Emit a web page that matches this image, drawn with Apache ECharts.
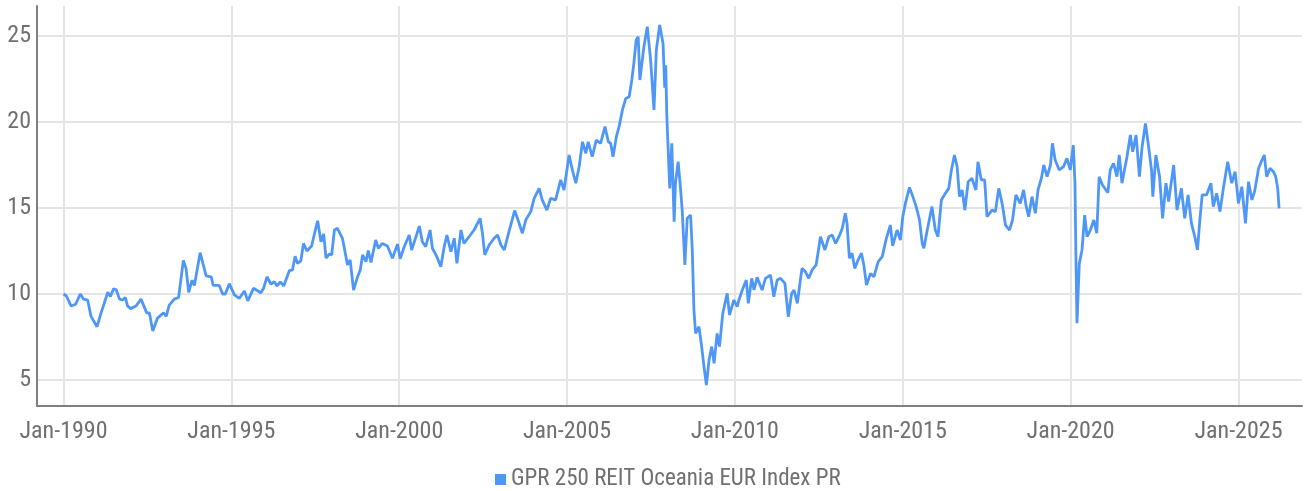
<!DOCTYPE html>
<html>
<head>
<meta charset="utf-8">
<script src="https://cdn.jsdelivr.net/npm/echarts@6/dist/echarts.min.js"></script>
<style>
    html, body { margin: 0; padding: 0; background: #fff; }
    #main { width: 1304px; height: 491px; }
</style>
</head>
<body>
<div id="main"></div>
<script>
// 图例名称
var seriesName = 'GPR 250 REIT Oceania EUR Index PR';

// 日期（小数年份）
var dates = [
    1990.00, 1990.08, 1990.23, 1990.36, 1990.50, 1990.60, 1990.72, 1990.82, 1991.00, 1991.12,
    1991.32, 1991.40, 1991.49, 1991.57, 1991.67, 1991.76, 1991.84, 1991.91, 1992.00, 1992.16,
    1992.31, 1992.48, 1992.56, 1992.66, 1992.80, 1992.98, 1993.06, 1993.15, 1993.30, 1993.43,
    1993.57, 1993.65, 1993.73, 1993.83, 1993.90, 1994.07, 1994.25, 1994.40, 1994.46, 1994.64,
    1994.74, 1994.82, 1994.94, 1995.09, 1995.24, 1995.39, 1995.49, 1995.66, 1995.88, 1995.96,
    1996.06, 1996.18, 1996.28, 1996.36, 1996.46, 1996.56, 1996.73, 1996.82, 1996.90, 1996.97,
    1997.07, 1997.15, 1997.25, 1997.39, 1997.57, 1997.67, 1997.75, 1997.82, 1997.92, 1997.99,
    1998.07, 1998.16, 1998.31, 1998.46, 1998.54, 1998.64, 1998.76, 1998.84, 1998.91, 1999.01,
    1999.08, 1999.16, 1999.30, 1999.38, 1999.50, 1999.65, 1999.80, 1999.95,
    2000.03, 2000.15, 2000.30, 2000.37, 2000.50, 2000.60, 2000.69, 2000.79, 2000.92, 2000.99,
    2001.12, 2001.24, 2001.34, 2001.42, 2001.54, 2001.64, 2001.72, 2001.84, 2001.93, 2002.08,
    2002.23, 2002.41, 2002.48, 2002.55, 2002.68, 2002.83, 2002.93, 2003.03, 2003.13, 2003.27,
    2003.44, 2003.54, 2003.67, 2003.77, 2003.92, 2004.02, 2004.17, 2004.26, 2004.40, 2004.51,
    2004.66, 2004.81, 2004.91, 2005.06, 2005.16, 2005.26, 2005.36, 2005.46, 2005.56, 2005.63,
    2005.75, 2005.87, 2006.00, 2006.13, 2006.23, 2006.30, 2006.37, 2006.47, 2006.55, 2006.65,
    2006.75, 2006.85, 2006.93, 2006.99, 2007.06, 2007.12, 2007.17, 2007.29, 2007.39, 2007.49,
    2007.59, 2007.66, 2007.76, 2007.86, 2007.91, 2007.94, 2007.97, 2008.00, 2008.06, 2008.12,
    2008.19, 2008.23, 2008.31, 2008.38, 2008.43, 2008.51, 2008.58, 2008.68, 2008.73, 2008.78,
    2008.83, 2008.93, 2009.01, 2009.08, 2009.15, 2009.23, 2009.31, 2009.38, 2009.47, 2009.54,
    2009.64, 2009.77, 2009.84, 2009.97, 2010.07, 2010.12, 2010.22, 2010.34, 2010.40, 2010.50,
    2010.57, 2010.66, 2010.81, 2010.91, 2011.06, 2011.16, 2011.26, 2011.36, 2011.49, 2011.59,
    2011.69, 2011.76, 2011.86, 2011.95, 2012.00, 2012.10, 2012.20, 2012.30, 2012.42, 2012.55,
    2012.68, 2012.80, 2012.90, 2013.00, 2013.10, 2013.20, 2013.29, 2013.34, 2013.41, 2013.49,
    2013.57, 2013.67, 2013.77, 2013.84, 2013.92, 2014.04, 2014.14, 2014.27, 2014.39, 2014.50,
    2014.63, 2014.70, 2014.83, 2014.93, 2015.00, 2015.08, 2015.13, 2015.20, 2015.30, 2015.40,
    2015.50, 2015.58, 2015.63, 2015.73, 2015.87, 2015.97, 2016.05, 2016.15, 2016.27, 2016.37,
    2016.45, 2016.54, 2016.62, 2016.69, 2016.77, 2016.85, 2016.95, 2017.06, 2017.18, 2017.24,
    2017.34, 2017.44, 2017.51, 2017.66, 2017.76, 2017.86, 2017.96, 2018.06, 2018.18, 2018.27,
    2018.37, 2018.50, 2018.60, 2018.67, 2018.75, 2018.85, 2018.95, 2019.03, 2019.13, 2019.20,
    2019.30, 2019.40, 2019.46, 2019.54, 2019.66, 2019.79, 2019.89, 2019.99, 2020.08, 2020.13,
    2020.16, 2020.19, 2020.26, 2020.34, 2020.42, 2020.49, 2020.59, 2020.69, 2020.78, 2020.85,
    2020.95, 2021.11, 2021.18, 2021.28, 2021.38, 2021.45, 2021.53, 2021.68, 2021.78, 2021.85,
    2021.95, 2022.05, 2022.13, 2022.23, 2022.31, 2022.41, 2022.45, 2022.54, 2022.65, 2022.74,
    2022.84, 2022.92, 2023.07, 2023.17, 2023.30, 2023.40, 2023.50, 2023.60, 2023.70, 2023.78,
    2023.85, 2023.92, 2024.05, 2024.18, 2024.25, 2024.35, 2024.45, 2024.55, 2024.68, 2024.80,
    2024.90, 2025.00, 2025.10, 2025.21, 2025.30, 2025.40, 2025.48, 2025.60, 2025.70, 2025.77,
    2025.84, 2025.94, 2026.04, 2026.11, 2026.17, 2026.21
];

// 指数值
var values = [
    10.0, 9.9, 9.3, 9.4, 10.0, 9.7, 9.65, 8.7, 8.1, 8.9,
    10.1, 9.85, 10.3, 10.25, 9.7, 9.65, 9.8, 9.3, 9.15, 9.3,
    9.7, 8.9, 8.9, 7.85, 8.6, 8.9, 8.7, 9.35, 9.7, 9.8,
    11.95, 11.5, 10.1, 10.8, 10.5, 12.4, 11.05, 11.0, 10.5, 10.5,
    10.0, 10.0, 10.6, 9.95, 9.75, 10.17, 9.6, 10.33, 10.07, 10.33,
    11.0, 10.58, 10.71, 10.47, 10.71, 10.47, 11.36, 11.4, 12.2, 11.78,
    11.93, 12.94, 12.5, 12.79, 14.26, 13.04, 13.49, 12.08, 12.33, 12.27,
    13.72, 13.82, 13.24, 11.69, 11.98, 10.23, 11.0, 11.4, 12.27, 11.88,
    12.52, 11.83, 13.14, 12.66, 12.94, 12.79, 12.08, 12.9,
    12.05, 12.75, 13.43, 12.56, 13.33, 13.95, 13.04, 12.75, 13.72, 12.66,
    12.17, 11.59, 12.75, 13.43, 12.46, 13.24, 11.78, 13.72, 12.94, 13.33,
    13.72, 14.4, 13.53, 12.27, 12.85, 13.24, 13.43, 12.85, 12.56, 13.63,
    14.85, 14.3, 13.53, 14.3, 14.79, 15.56, 16.14, 15.47, 14.88, 15.56,
    15.47, 16.63, 16.05, 18.08, 17.21, 16.44, 17.4, 18.85, 18.18, 18.85,
    17.98, 18.95, 18.76, 19.73, 18.85, 18.76, 17.98, 19.15, 19.73, 20.7,
    21.37, 21.47, 22.44, 23.41, 24.77, 24.96, 22.44, 24.38, 25.54, 23.6,
    20.7, 24.19, 25.64, 24.57, 22.0, 23.3, 20.5, 19.0, 16.14, 18.76,
    14.2, 16.44, 17.7, 16.14, 14.88, 11.69, 14.4, 14.59, 12.56, 9.07,
    7.71, 8.1, 6.94, 5.77, 4.71, 6.16, 6.94, 5.97, 7.71, 6.94,
    8.88, 10.04, 8.78, 9.65, 9.26, 9.65, 10.23, 10.81, 9.46, 10.91,
    10.23, 10.97, 10.23, 10.91, 11.1, 9.84, 10.81, 10.91, 10.62, 8.68,
    10.04, 10.23, 9.46, 10.81, 11.49, 11.3, 10.91, 11.4, 11.69, 13.33,
    12.56, 13.33, 13.43, 12.94, 13.33, 13.82, 14.69, 14.11, 12.08, 12.37,
    11.49, 11.98, 12.37, 11.69, 10.52, 11.2, 11.0, 11.88, 12.17, 13.14,
    14.01, 12.8, 13.72, 13.14, 14.49, 15.27, 15.66, 16.2, 15.66, 15.08,
    14.3, 12.94, 12.66, 13.72, 15.08, 13.72, 13.33, 15.47, 15.85, 16.14,
    17.21, 18.08, 17.4, 15.66, 16.05, 14.88, 16.53, 16.73, 16.05, 17.69,
    16.63, 16.63, 14.49, 14.88, 14.79, 16.14, 15.27, 14.01, 13.72, 14.3,
    15.76, 15.27, 16.05, 15.17, 14.49, 15.66, 14.69, 16.05, 16.73, 17.5,
    16.82, 17.5, 18.76, 17.79, 17.21, 17.4, 17.89, 17.21, 18.66, 16.44,
    12.0, 8.3, 11.78, 12.56, 14.59, 13.33, 13.72, 14.3, 13.53, 16.82,
    16.34, 15.89, 17.21, 17.6, 16.82, 18.08, 16.44, 17.98, 19.24, 18.27,
    19.24, 16.82, 18.56, 19.92, 18.76, 17.21, 15.66, 18.08, 16.82, 14.4,
    16.44, 15.37, 17.5, 14.88, 16.14, 14.4, 15.76, 14.11, 13.33, 12.56,
    14.3, 15.76, 15.76, 16.44, 15.08, 15.85, 14.79, 16.14, 17.69, 16.44,
    17.11, 15.27, 16.24, 14.11, 16.53, 15.47, 15.95, 17.31, 17.79, 18.08,
    16.82, 17.31, 17.11, 16.82, 16.14, 14.98
];

var labelFont = "'Roboto Condensed', 'Liberation Sans Narrow', 'Arial Narrow', sans-serif";

var lineData = dates.map(function (d, i) {
    return [d, values[i]];
});

var myChart = echarts.init(document.getElementById('main'));

var option = {
    animation: false,
    grid: {
        left: 37,
        right: 2,
        top: 6,
        bottom: 85
    },
    legend: {
        left: 490,
        top: 463,
        icon: 'rect',
        itemWidth: 11,
        itemHeight: 11,
        data: [seriesName],
        textStyle: {
            fontFamily: labelFont,
            fontSize: 23,
            color: '#707070'
        }
    },
    xAxis: {
        type: 'value',
        min: 1989.211,
        max: 2026.893,
        minInterval: 5,
        maxInterval: 5,
        axisLine: {
            show: true,
            lineStyle: { color: '#7f7f7f', width: 2 }
        },
        axisTick: { show: false },
        axisLabel: {
            showMinLabel: false,
            showMaxLabel: false,
            margin: 14,
            fontFamily: labelFont,
            fontSize: 24,
            color: '#707070',
            formatter: function (v) {
                return 'Jan-' + Math.round(v);
            }
        },
        splitLine: {
            show: true,
            showMinLine: false,
            showMaxLine: false,
            lineStyle: { color: '#e5e5e5', width: 2 }
        }
    },
    yAxis: {
        type: 'value',
        min: 3.488,
        max: 26.744,
        minInterval: 5,
        maxInterval: 5,
        axisLine: {
            show: true,
            lineStyle: { color: '#7f7f7f', width: 2 }
        },
        axisTick: { show: false },
        axisLabel: {
            showMinLabel: false,
            showMaxLabel: false,
            margin: 6,
            fontFamily: labelFont,
            fontSize: 24,
            color: '#707070'
        },
        splitLine: {
            show: true,
            showMinLine: false,
            showMaxLine: false,
            lineStyle: { color: '#e5e5e5', width: 2 }
        }
    },
    series: [
        {
            name: seriesName,
            type: 'line',
            data: lineData,
            symbol: 'none',
            lineStyle: { color: '#4e97f6', width: 2.8 },
            itemStyle: { color: '#4e97f6' }
        }
    ]
};

myChart.setOption(option);
</script>
</body>
</html>
